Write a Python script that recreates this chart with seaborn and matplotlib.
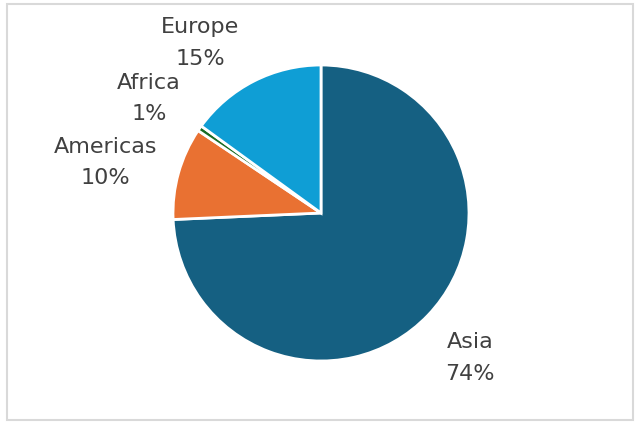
import numpy as np
import matplotlib
matplotlib.use("Agg")
import matplotlib.pyplot as plt
import seaborn as sns
from matplotlib.patches import FancyBboxPatch

# Datos
regions = ["Asia", "Americas", "Africa", "Europe"]
shares = [74.3, 10.1, 0.6, 15.0]
colors = ["#156082", "#E97132", "#196B24", "#0F9ED5"]

# Ubicación de etiquetas (radio relativo y desvío angular en grados)
label_dist = [1.40, 1.50, 1.40, 1.415]
label_shift = [-0.3, 2.2, 1.1, 8.3]

sns.set_theme(style="white")
plt.rcParams['font.family'] = ['DejaVu Sans']

fig = plt.figure(figsize=(6.4, 4.27), dpi=100)
ax = fig.add_axes([0, 0, 1, 1])

wedges, _ = ax.pie(
    shares, colors=colors, startangle=90, counterclock=False,
    wedgeprops=dict(edgecolor="white", linewidth=2),
)

# Etiquetas: nombre + porcentaje
total = sum(shares)
for w, name, val, d, s in zip(wedges, regions, shares, label_dist, label_shift):
    ang = np.deg2rad((w.theta1 + w.theta2) / 2 + s)
    ax.text(d * np.cos(ang), d * np.sin(ang), f"{name}\n{val / total:.0%}",
            ha="center", va="center", fontsize=16, color="#404040",
            linespacing=1.7)

scale = 148.0
ax.set_xlim(-321 / scale, 319 / scale)
ax.set_ylim(-213 / scale, 214 / scale)
ax.set_aspect("auto")
ax.axis("off")

# Marco del gráfico
frame = FancyBboxPatch((7 / 640, 6 / 427), 626 / 640, 416 / 427,
                       boxstyle="square,pad=0", transform=fig.transFigure,
                       fill=False, edgecolor="#D9D9D9", linewidth=1.5)
fig.patches.append(frame)

fig.savefig("out.png", dpi=100)
